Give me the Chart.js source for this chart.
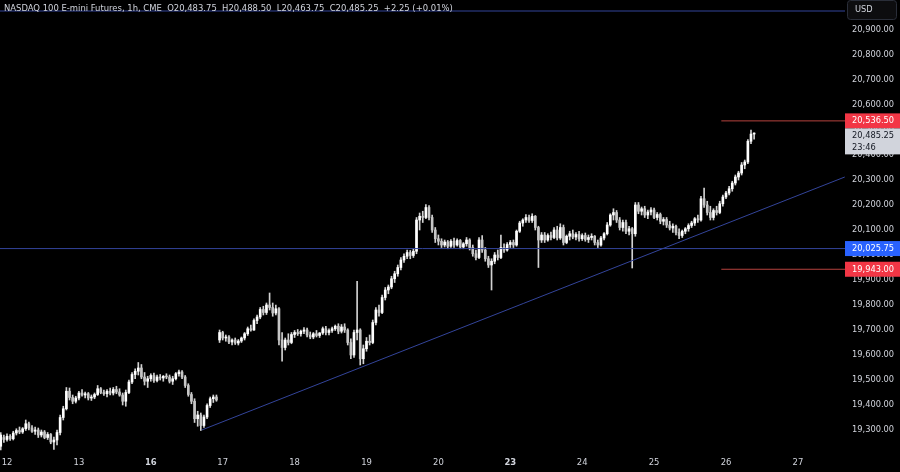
<!DOCTYPE html>
<html><head><meta charset="utf-8">
<script src="https://cdn.jsdelivr.net/npm/chart.js@4.4.1/dist/chart.umd.min.js"></script>
<style>html,body{margin:0;padding:0;background:#000;overflow:hidden}#wrap{width:900px;height:472px}</style>
</head><body><div id="wrap"><canvas id="c" width="900" height="472"></canvas></div>
<script>
// ---- data (hourly NQ candles) ----
const opens = [
19235,19270,19262,19275,19265,19288,19298,19292,19305,19325,
19308,19295,19300,19280,19292,19270,19282,19252,19260,19290,
19350,19385,19455,19430,19415,19428,19448,19440,19445,19428,
19432,19442,19465,19450,19445,19455,19448,19462,19452,19440,
19415,19450,19492,19522,19535,19548,19512,19495,19505,19518,
19498,19512,19508,19515,19512,19495,19505,19525,19532,19512,
19478,19442,19415,19345,19360,19318,19352,19398,19425,19432,
19660,19690,19668,19672,19652,19660,19648,19656,19668,19685,
19705,19700,19738,19752,19782,19770,19800,19790,19768,19785,
19660,19630,19660,19650,19682,19690,19685,19695,19700,19680,
19672,19685,19678,19688,19705,19690,19698,19705,19715,19695,
19712,19700,19650,19600,19690,19700,19585,19625,19655,19650,
19730,19780,19770,19830,19860,19872,19905,19925,19950,19980,
19995,20010,19998,20015,20140,20155,20150,20190,20150,20100,
20065,20055,20040,20052,20035,20055,20040,20058,20032,20045,
20060,20030,20005,19990,20060,20020,19985,19960,19975,20000,
19990,20030,20020,20042,20050,20040,20095,20128,20140,20150,
20138,20155,20110,20060,20080,20060,20078,20070,20100,20068,
20110,20050,20075,20085,20072,20082,20065,20078,20062,20070,
20075,20050,20040,20068,20085,20120,20160,20170,20140,20110,
20130,20095,20105,20085,20200,20175,20185,20160,20172,20180,
20150,20162,20135,20142,20120,20108,20115,20090,20078,20095,
20105,20118,20128,20145,20140,20225,20200,20170,20150,20178,
20170,20205,20232,20248,20265,20288,20312,20328,20360,20372,
20455,20483.75];
const highs = [
19290,19280,19285,19282,19295,19305,19312,19310,19340,19332,
19318,19312,19308,19300,19298,19290,19286,19272,19300,19360,
19395,19470,19468,19440,19435,19455,19462,19452,19450,19440,
19448,19478,19470,19460,19462,19468,19470,19475,19465,19448,
19460,19500,19530,19545,19570,19562,19530,19515,19525,19528,
19520,19522,19518,19525,19520,19515,19530,19540,19538,19518,
19485,19450,19425,19375,19368,19360,19405,19432,19440,19440,
19700,19695,19680,19678,19665,19668,19662,19672,19690,19712,
19720,19745,19760,19790,19795,19808,19848,19808,19800,19790,
19690,19668,19685,19690,19698,19702,19700,19710,19708,19692,
19690,19698,19690,19712,19715,19705,19712,19720,19725,19722,
19725,19705,19665,19700,19895,19705,19640,19670,19680,19740,
19790,19800,19840,19870,19880,19915,19935,19960,19990,20005,
20020,20018,20025,20150,20168,20175,20202,20198,20160,20110,
20080,20065,20060,20058,20062,20068,20065,20062,20050,20070,
20065,20040,20020,20070,20078,20030,19995,19985,20010,20020,
20080,20045,20050,20058,20060,20100,20135,20145,20162,20160,
20165,20158,20115,20090,20090,20085,20092,20110,20115,20125,
20120,20080,20095,20100,20090,20095,20085,20088,20080,20085,
20078,20060,20075,20090,20130,20165,20185,20178,20150,20140,
20140,20115,20110,20210,20210,20192,20195,20180,20190,20188,
20170,20168,20150,20150,20135,20125,20120,20105,20100,20110,
20125,20135,20150,20160,20235,20268,20215,20195,20185,20195,
20215,20240,20255,20275,20295,20320,20335,20370,20380,20462,
20500,20488.5];
const lows = [
19220,19250,19255,19258,19260,19280,19285,19286,19298,19300,
19290,19282,19270,19272,19265,19262,19245,19222,19240,19280,
19340,19380,19420,19405,19408,19420,19435,19428,19420,19418,
19425,19438,19445,19438,19432,19440,19440,19445,19435,19400,
19395,19445,19485,19505,19520,19505,19480,19470,19495,19490,
19492,19500,19495,19505,19488,19482,19500,19515,19505,19470,
19435,19405,19330,19315,19298,19310,19345,19390,19410,19415,
19650,19660,19655,19645,19640,19642,19640,19650,19660,19678,
19695,19698,19725,19745,19760,19762,19780,19755,19760,19640,
19575,19620,19640,19645,19670,19678,19675,19685,19672,19665,
19665,19672,19670,19682,19680,19680,19690,19698,19685,19688,
19690,19640,19585,19590,19660,19560,19565,19615,19640,19645,
19720,19755,19765,19820,19845,19865,19890,19915,19940,19970,
19985,19985,19990,20005,20100,20130,20145,20140,20090,20050,
20040,20030,20032,20025,20030,20030,20035,20025,20025,20035,
20020,19995,19980,19985,20010,19975,19950,19860,19965,19980,
19985,20010,20015,20030,20030,20035,20090,20115,20130,20130,
20130,20100,19950,20050,20050,20055,20060,20065,20060,20062,
20040,20045,20060,20065,20060,20055,20058,20055,20050,20060,
20040,20030,20035,20060,20080,20115,20140,20130,20100,20095,
20085,20080,19948,20075,20165,20160,20150,20145,20160,20145,
20140,20125,20120,20110,20100,20090,20080,20065,20070,20085,
20095,20110,20118,20130,20135,20190,20160,20140,20140,20160,
20165,20195,20225,20240,20255,20280,20300,20320,20345,20365,
20445,20463.75];
const closes = [
19280,19262,19275,19265,19288,19298,19292,19305,19325,19308,
19295,19300,19280,19292,19270,19282,19252,19260,19290,19350,
19385,19455,19430,19415,19428,19448,19440,19445,19428,19432,
19442,19465,19450,19445,19455,19448,19462,19452,19440,19415,
19450,19492,19522,19535,19548,19512,19495,19505,19518,19498,
19512,19508,19515,19512,19495,19505,19525,19532,19512,19478,
19442,19415,19345,19360,19318,19352,19398,19425,19432,19420,
19690,19668,19672,19652,19660,19648,19656,19668,19685,19705,
19700,19738,19752,19782,19770,19800,19790,19768,19785,19660,
19630,19660,19650,19682,19690,19685,19695,19700,19680,19672,
19685,19678,19688,19705,19690,19698,19705,19715,19695,19712,
19700,19650,19600,19690,19700,19585,19625,19655,19650,19730,
19780,19770,19830,19860,19872,19905,19925,19950,19980,19995,
20010,19998,20015,20140,20155,20150,20190,20150,20100,20065,
20055,20040,20052,20035,20055,20040,20058,20032,20045,20060,
20030,20005,19990,20060,20020,19985,19960,19975,20000,19990,
20030,20020,20042,20050,20040,20095,20128,20140,20150,20138,
20155,20110,20060,20080,20060,20078,20070,20100,20068,20110,
20050,20075,20085,20072,20082,20065,20078,20062,20070,20075,
20050,20040,20068,20085,20120,20160,20170,20140,20110,20130,
20095,20105,20085,20200,20175,20185,20160,20172,20180,20150,
20162,20135,20142,20120,20108,20115,20090,20078,20095,20105,
20118,20128,20145,20140,20225,20200,20170,20150,20178,20170,
20205,20232,20248,20265,20288,20312,20328,20360,20372,20455,
20483.75,20485.25];

const dayLabels = ['12','13','16','17','18','19','20','23','24','25','26','27'];
const dayStarts = [2,25,48,71,94,117,140,163,186,209,232,255];
const boldDays = ['16','23'];
const priceTicks = [19300,19400,19500,19600,19700,19800,19900,20000,20100,20200,20300,20400,20500,20600,20700,20800,20900];

const resistanceLevel = 20536.5;
const pivotLevel = 20025.75;
const supportLevel = 19943;
const topLevel = 20976;
const levelsFrom = 230.5;
const trendX = [64.3, 270];
const trendY = [19300, 20312];
const lastPrice = 20485.25;
const countdown = '23:46';
const titleText = 'NASDAQ 100 E-mini Futures, 1h, CME';
const ohlcText = 'O20,483.75  H20,488.50  L20,463.75  C20,485.25  +2.25 (+0.01%)';
const currency = 'USD';

// ---- styles ----
const FONT = "'Liberation Sans Narrow','DejaVu Sans Condensed',Roboto,'Liberation Sans',sans-serif";
const TXT = '#d1d4dc';
const UP = '#ffffff', DOWN = '#c6c6c6', WICK = '#d2d2d2';
const BLUE_LINE = '#33449a', RED_LINE = '#b5423e';
const fmt = v => v.toLocaleString('en-US',{minimumFractionDigits:2,maximumFractionDigits:2});

const idx = opens.map((_, i) => i);
const wickData = idx.map(i => ({x:i, y:[lows[i], highs[i]]}));
const bodyData = idx.map(i => ({x:i, y:[Math.min(opens[i], closes[i]), Math.max(opens[i], closes[i])]}));
const bodyColors = idx.map(i => closes[i] >= opens[i] ? UP : DOWN);

const hline = (v, from, color) => ({
  type:'line', data:[{x:from, y:v},{x:270.07, y:v}], borderColor:color, borderWidth:1,
  pointRadius:0, fill:false, order:0
});

const overlay = {
  id:'overlay',
  afterDraw(chart){
    const {ctx, chartArea, scales:{y}} = chart;
    const L = chartArea.right, W = chart.width - L;
    ctx.save();
    ctx.font = '9.4px ' + FONT;
    ctx.textBaseline = 'middle';
    ctx.textAlign = 'left';
    ctx.fillStyle = TXT;
    ctx.fillText(titleText, 4, 8.5);
    const tw = ctx.measureText(titleText + '  ').width;
    ctx.fillText(ohlcText, 4 + tw, 8.5);
    ctx.font = '9.2px ' + FONT;
    ctx.fillStyle = '#0d0d0f';
    ctx.strokeStyle = '#2a2e39';
    ctx.lineWidth = 1;
    ctx.beginPath();
    ctx.roundRect(L + 2.5, 0.5, W - 6, 19, 3);
    ctx.fill(); ctx.stroke();
    ctx.fillStyle = TXT;
    ctx.fillText(currency, L + 10, 10);
    const tag = (top, h, bg, fg, lines) => {
      ctx.fillStyle = bg;
      ctx.fillRect(L, top, W, h);
      ctx.fillStyle = fg;
      lines.forEach((t, k) => ctx.fillText(t, L + 7, top + 7.5 + k * 12));
    };
    const yr = y.getPixelForValue(resistanceLevel);
    tag(yr - 7.5, 15, '#f23645', '#ffffff', [fmt(resistanceLevel)]);
    const yl = y.getPixelForValue(lastPrice);
    const lt = Math.max(yl - 7.5, yr + 7.5);
    tag(lt, 26, '#d1d4dc', '#131722', [fmt(lastPrice), countdown]);
    const yp = y.getPixelForValue(pivotLevel);
    tag(yp - 7.5, 15, '#2962ff', '#ffffff', [fmt(pivotLevel)]);
    const ys = y.getPixelForValue(supportLevel);
    tag(ys - 7.5, 15, '#f23645', '#ffffff', [fmt(supportLevel)]);
    ctx.restore();
  }
};

Chart.defaults.font.family = FONT;
new Chart(document.getElementById('c'), {
  type:'bar',
  data:{
    datasets:[
      {type:'bar', data:wickData, backgroundColor:WICK, barThickness:1, grouped:false, order:3},
      {type:'bar', data:bodyData, backgroundColor:bodyColors, barThickness:2, minBarLength:1, grouped:false, order:2},
      hline(topLevel, -0.24, BLUE_LINE),
      hline(pivotLevel, -0.24, BLUE_LINE),
      hline(resistanceLevel, levelsFrom, RED_LINE),
      hline(supportLevel, levelsFrom, RED_LINE),
      {type:'line', data:[{x:trendX[0], y:trendY[0]},{x:trendX[1], y:trendY[1]}], borderColor:BLUE_LINE, borderWidth:1, pointRadius:0, fill:false, order:1}
    ]
  },
  options:{
    responsive:false, animation:false, devicePixelRatio:1,
    layout:{padding:0, autoPadding:false},
    plugins:{legend:{display:false}, tooltip:{enabled:false}},
    scales:{
      x:{
        type:'linear', min:-0.24, max:270.07, offset:false,
        grid:{display:false, drawTicks:false}, border:{display:false},
        afterBuildTicks:s => { s.ticks = dayStarts.map(v => ({value:v})); },
        afterFit:s => { s.height = 20; s.paddingLeft = 0; s.paddingRight = 0; s.paddingTop = 0; s.paddingBottom = 0; },
        ticks:{
          autoSkip:false, maxRotation:0, padding:5, color:TXT,
          callback:v => dayLabels[dayStarts.indexOf(v)],
          font:c => ({family:FONT, size:9.4, weight: (c.tick && boldDays.includes(dayLabels[dayStarts.indexOf(c.tick.value)])) ? 'bold' : 'normal'})
        }
      },
      y:{
        position:'right', min:19212, max:21020,
        grid:{display:false, drawTicks:false}, border:{display:false},
        afterBuildTicks:s => { s.ticks = priceTicks.map(v => ({value:v})); },
        afterFit:s => { s.width = 55; s.paddingLeft = 0; s.paddingRight = 0; s.paddingTop = 0; s.paddingBottom = 0; },
        ticks:{padding:7, color:TXT, font:{family:FONT, size:9.2}, callback:v => fmt(v)}
      }
    }
  },
  plugins:[overlay]
});
</script></body></html>
